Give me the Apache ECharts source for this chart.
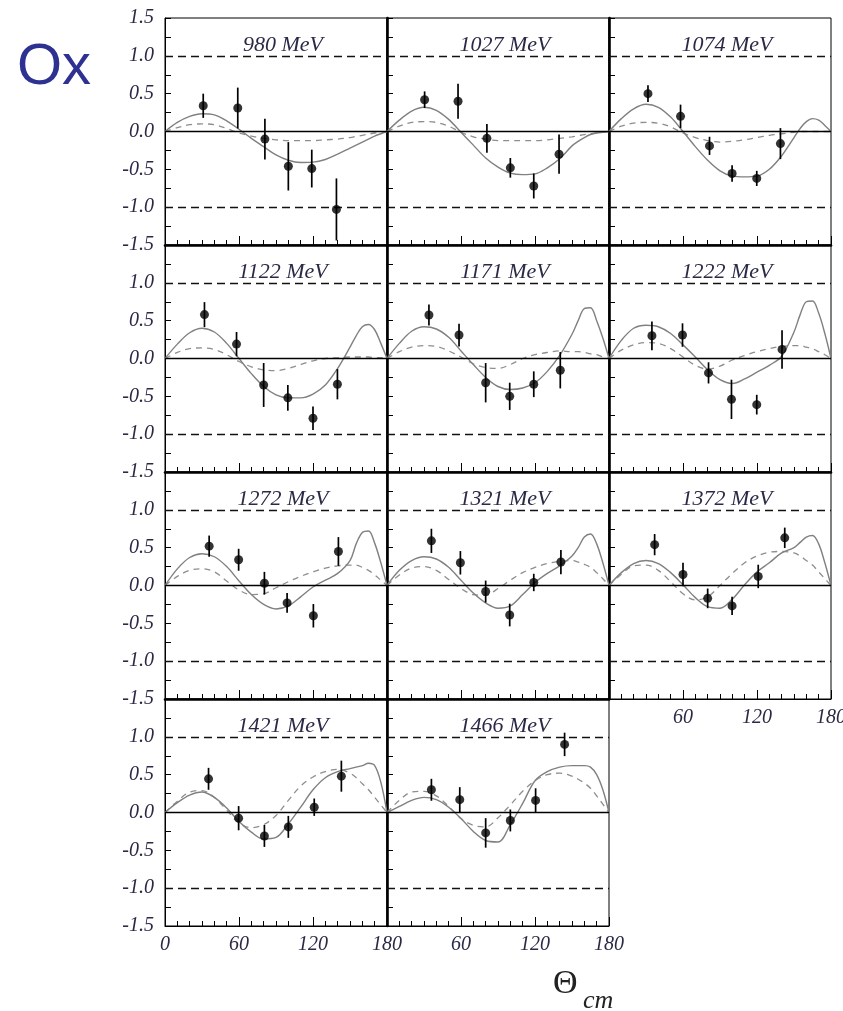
<!DOCTYPE html>
<html>
<head>
<meta charset="utf-8">
<title>Ox</title>
<script src="https://cdn.jsdelivr.net/npm/echarts@6/dist/echarts.min.js"></script>
<style>
  html, body { margin: 0; padding: 0; background: #fff; }
  #chart { width: 843px; height: 1011px; }
</style>
</head>
<body>
<div id="chart"></div>
<script>
// Beam energies (MeV), one panel each
const energies = [980, 1027, 1074, 1122, 1171, 1222, 1272, 1321, 1372, 1421, 1466];

// Measured points: angle (deg), Ox value, error
const pointAngles = [
  [31, 59, 81, 100, 119, 139],
  [30.5, 57.6, 81, 100, 119, 139.5],
  [31.6, 58, 81.5, 99.8, 119.8, 139],
  [32, 58, 80, 99.6, 120, 139.8],
  [34, 58.4, 80, 99.5, 119, 140.5],
  [34.8, 59.6, 80.7, 99.3, 119.8, 140.3],
  [35.8, 59.7, 80.6, 99, 120.3, 140.6],
  [36, 59.5, 80, 99.5, 119, 141],
  [37, 60, 80, 99.8, 121, 142.5],
  [35.3, 59.7, 80.6, 100, 121, 143],
  [36, 59, 80, 100, 120.5, 144]
];
const pointValues = [
  [0.34, 0.31, -0.10, -0.46, -0.49, -1.03],
  [0.42, 0.40, -0.09, -0.48, -0.72, -0.30],
  [0.50, 0.20, -0.19, -0.555, -0.62, -0.16],
  [0.58, 0.19, -0.35, -0.52, -0.79, -0.34],
  [0.575, 0.31, -0.32, -0.50, -0.34, -0.155],
  [0.30, 0.31, -0.19, -0.54, -0.61, 0.12],
  [0.52, 0.34, 0.03, -0.23, -0.40, 0.45],
  [0.59, 0.30, -0.08, -0.39, 0.04, 0.31],
  [0.54, 0.145, -0.17, -0.27, 0.12, 0.63],
  [0.445, -0.075, -0.31, -0.19, 0.07, 0.48],
  [0.30, 0.17, -0.27, -0.105, 0.16, 0.90]
];
const pointErrors = [
  [0.16, 0.27, 0.27, 0.32, 0.25, 0.41],
  [0.11, 0.23, 0.19, 0.13, 0.165, 0.26],
  [0.11, 0.155, 0.12, 0.11, 0.10, 0.205],
  [0.165, 0.16, 0.29, 0.17, 0.155, 0.20],
  [0.14, 0.15, 0.26, 0.18, 0.17, 0.24],
  [0.19, 0.155, 0.14, 0.26, 0.13, 0.255],
  [0.14, 0.145, 0.15, 0.13, 0.155, 0.19],
  [0.16, 0.155, 0.145, 0.15, 0.115, 0.16],
  [0.14, 0.155, 0.13, 0.12, 0.155, 0.135],
  [0.145, 0.16, 0.145, 0.145, 0.115, 0.205],
  [0.145, 0.165, 0.195, 0.145, 0.16, 0.155]
];

// Model curves sampled on a common angle grid
const curveAngles = [0, 10, 20, 30, 40, 50, 60, 70, 80, 90, 100, 110, 120, 130, 140, 150, 155, 160, 165, 170, 175, 180];
const solidCurves = [
  [0, 0.12, 0.20, 0.235, 0.22, 0.14, 0.03, -0.09, -0.20, -0.31, -0.38, -0.41, -0.405, -0.37, -0.30, -0.22, -0.18, -0.14, -0.10, -0.06, -0.03, 0],
  [0, 0.15, 0.27, 0.32, 0.28, 0.16, -0.01, -0.18, -0.35, -0.47, -0.55, -0.57, -0.56, -0.48, -0.36, -0.19, -0.13, -0.08, -0.04, -0.02, -0.01, 0],
  [0, 0.17, 0.30, 0.36, 0.32, 0.19, 0.0, -0.20, -0.38, -0.52, -0.59, -0.60, -0.59, -0.50, -0.32, -0.08, 0.04, 0.13, 0.17, 0.15, 0.08, 0],
  [0, 0.19, 0.34, 0.40, 0.35, 0.20, 0.0, -0.20, -0.37, -0.48, -0.52, -0.52, -0.47, -0.35, -0.13, 0.15, 0.30, 0.42, 0.45, 0.38, 0.20, 0],
  [0, 0.20, 0.36, 0.42, 0.39, 0.28, 0.10, -0.08, -0.25, -0.37, -0.41, -0.39, -0.32, -0.17, 0.04, 0.32, 0.50, 0.66, 0.67, 0.50, 0.27, 0],
  [0, 0.24, 0.40, 0.44, 0.42, 0.33, 0.18, 0.02, -0.15, -0.28, -0.33, -0.27, -0.18, -0.09, 0.03, 0.35, 0.58, 0.75, 0.76, 0.60, 0.33, 0],
  [0, 0.22, 0.37, 0.42, 0.38, 0.25, 0.06, -0.12, -0.25, -0.31, -0.27, -0.15, -0.02, 0.07, 0.16, 0.33, 0.55, 0.70, 0.72, 0.56, 0.30, 0],
  [0, 0.20, 0.33, 0.38, 0.35, 0.24, 0.07, -0.10, -0.23, -0.30, -0.27, -0.12, 0.04, 0.16, 0.26, 0.39, 0.50, 0.64, 0.68, 0.55, 0.30, 0],
  [0, 0.17, 0.29, 0.33, 0.29, 0.17, 0.01, -0.16, -0.28, -0.30, -0.18, 0.01, 0.18, 0.30, 0.43, 0.50, 0.57, 0.64, 0.66, 0.55, 0.30, 0],
  [0, 0.13, 0.23, 0.27, 0.20, 0.06, -0.12, -0.26, -0.35, -0.33, -0.15, 0.07, 0.30, 0.46, 0.54, 0.58, 0.60, 0.62, 0.65, 0.62, 0.40, 0],
  [0, 0.08, 0.16, 0.20, 0.17, 0.07, -0.08, -0.25, -0.37, -0.39, -0.16, 0.12, 0.42, 0.54, 0.60, 0.62, 0.62, 0.62, 0.60, 0.50, 0.30, 0]
];
const dashedCurves = [
  [0, 0.05, 0.09, 0.10, 0.09, 0.04, -0.02, -0.06, -0.09, -0.11, -0.12, -0.12, -0.12, -0.11, -0.10, -0.08, -0.065, -0.05, -0.035, -0.02, -0.01, 0],
  [0, 0.07, 0.12, 0.13, 0.12, 0.07, -0.01, -0.07, -0.10, -0.12, -0.12, -0.12, -0.12, -0.11, -0.09, -0.07, -0.055, -0.04, -0.03, -0.02, -0.01, 0],
  [0, 0.07, 0.11, 0.12, 0.11, 0.06, -0.02, -0.08, -0.12, -0.14, -0.13, -0.11, -0.08, -0.05, -0.03, -0.01, 0, 0, 0, 0, 0, 0],
  [0, 0.08, 0.13, 0.14, 0.12, 0.05, -0.04, -0.11, -0.15, -0.16, -0.13, -0.08, -0.03, 0.0, 0.01, 0.02, 0.02, 0.02, 0.02, 0.01, 0.01, 0],
  [0, 0.09, 0.15, 0.17, 0.16, 0.10, 0.02, -0.07, -0.12, -0.13, -0.08, 0.0, 0.05, 0.08, 0.10, 0.09, 0.09, 0.08, 0.06, 0.05, 0.02, 0],
  [0, 0.11, 0.18, 0.21, 0.20, 0.13, 0.02, -0.09, -0.14, -0.10, -0.02, 0.04, 0.09, 0.13, 0.16, 0.17, 0.17, 0.15, 0.13, 0.09, 0.05, 0],
  [0, 0.12, 0.20, 0.22, 0.18, 0.06, -0.06, -0.12, -0.11, -0.03, 0.05, 0.12, 0.18, 0.23, 0.26, 0.27, 0.27, 0.24, 0.20, 0.14, 0.07, 0],
  [0, 0.14, 0.23, 0.25, 0.20, 0.08, -0.04, -0.12, -0.13, -0.04, 0.07, 0.17, 0.24, 0.29, 0.32, 0.33, 0.31, 0.28, 0.24, 0.17, 0.09, 0],
  [0, 0.15, 0.26, 0.27, 0.20, 0.05, -0.11, -0.19, -0.15, 0.0, 0.16, 0.30, 0.39, 0.44, 0.45, 0.43, 0.39, 0.33, 0.27, 0.18, 0.09, 0],
  [0, 0.15, 0.27, 0.29, 0.20, 0.03, -0.14, -0.20, -0.16, -0.04, 0.16, 0.35, 0.47, 0.54, 0.57, 0.52, 0.46, 0.38, 0.30, 0.20, 0.10, 0],
  [0, 0.16, 0.27, 0.28, 0.22, 0.08, -0.08, -0.17, -0.19, -0.07, 0.10, 0.28, 0.42, 0.50, 0.52, 0.48, 0.44, 0.39, 0.32, 0.22, 0.11, 0]
];

// Axis ranges and tick labels
const angleRange = [0, 180];
const angleStep = 60;
const oxRange = [-1.5, 1.5];
const oxStep = 0.5;

// Panel geometry (3 columns x 4 rows)
const colLeft = [165, 387, 609];
const rowTop = [18, 245, 472, 699];
const panelW = 222;
const panelH = 227;
const nCols = 3;

const serif = "'Liberation Serif', 'Times New Roman', serif";
const labelColor = '#2a2a46';

const chart = echarts.init(document.getElementById('chart'), null, { renderer: 'canvas' });

const grids = [], xAxes = [], yAxes = [], series = [], titles = [];

energies.forEach((e, i) => {
  const row = Math.floor(i / nCols), col = i % nCols;
  const hasBelow = i + nCols < energies.length;
  const hasLeft = col > 0;

  grids.push({
    left: colLeft[col], top: rowTop[row], width: panelW, height: panelH,
    show: true, borderColor: '#000', borderWidth: 1, backgroundColor: 'transparent',
    outerBoundsMode: 'none', containLabel: false
  });

  xAxes.push({
    gridIndex: i, type: 'value', min: angleRange[0], max: angleRange[1], interval: angleStep,
    axisLine: { show: true, onZero: false, lineStyle: { color: '#000', width: hasBelow ? 2.6 : 1 } },
    axisTick: { show: true, inside: true, length: 9, lineStyle: { color: '#000', width: 1 } },
    minorTick: { show: true, splitNumber: 6, length: 5, lineStyle: { color: '#000', width: 1 } },
    splitLine: { show: false }, minorSplitLine: { show: false },
    axisLabel: {
      show: !hasBelow, showMinLabel: col === 0, showMaxLabel: true, hideOverlap: false,
      color: labelColor, fontFamily: serif, fontStyle: 'italic', fontSize: 20, margin: 9
    }
  });

  yAxes.push({
    gridIndex: i, type: 'value', min: oxRange[0], max: oxRange[1], interval: oxStep,
    axisLine: { show: true, onZero: false, lineStyle: { color: '#000', width: hasLeft ? 2.6 : 1 } },
    axisTick: { show: true, inside: true, length: 6, lineStyle: { color: '#000', width: 1 } },
    minorTick: { show: true, splitNumber: 2, length: 6, lineStyle: { color: '#000', width: 1 } },
    splitLine: { show: false }, minorSplitLine: { show: false },
    axisLabel: {
      show: col === 0, showMaxLabel: row === 0, showMinLabel: true, hideOverlap: false,
      color: labelColor, fontFamily: serif, fontStyle: 'italic', fontSize: 20, margin: 11,
      formatter: v => v.toFixed(1)
    }
  });

  titles.push({
    text: e + ' MeV',
    left: colLeft[col] + panelW / 2 + 2, top: rowTop[row] + 11, textAlign: 'center',
    textStyle: { color: labelColor, fontFamily: serif, fontStyle: 'italic', fontWeight: 'normal', fontSize: 22 }
  });

  series.push({
    type: 'line', xAxisIndex: i, yAxisIndex: i, silent: true,
    data: curveAngles.map((a, k) => [a, dashedCurves[i][k]]),
    smooth: 0.35, symbol: 'none',
    lineStyle: { color: '#8e8e8e', width: 1.3, type: [6, 5] }, z: 3
  });
  series.push({
    type: 'line', xAxisIndex: i, yAxisIndex: i, silent: true,
    data: curveAngles.map((a, k) => [a, solidCurves[i][k]]),
    smooth: 0.35, symbol: 'none',
    lineStyle: { color: '#808080', width: 1.4 }, z: 4
  });
  series.push({
    type: 'custom', xAxisIndex: i, yAxisIndex: i, silent: true,
    data: pointAngles[i].map((a, k) => [a, pointValues[i][k] - pointErrors[i][k], pointValues[i][k] + pointErrors[i][k]]),
    encode: { x: 0, y: [1, 2] },
    renderItem: (params, api) => {
      const p1 = api.coord([api.value(0), api.value(1)]);
      const p2 = api.coord([api.value(0), api.value(2)]);
      return { type: 'line', shape: { x1: p1[0], y1: p1[1], x2: p2[0], y2: p2[1] },
               style: { stroke: '#000', lineWidth: 1.7 } };
    },
    z: 5
  });
  series.push({
    type: 'scatter', xAxisIndex: i, yAxisIndex: i, silent: true,
    data: pointAngles[i].map((a, k) => [a, pointValues[i][k]]),
    symbol: 'circle', symbolSize: 9, itemStyle: { color: '#000' }, z: 6,
    markLine: {
      silent: true, symbol: ['none', 'none'], label: { show: false },
      lineStyle: { color: '#111', width: 1.3, type: [8, 5] },
      data: [
        { yAxis: 0, lineStyle: { type: 'solid', color: '#000', width: 1.3 } },
        { yAxis: 1 },
        { yAxis: -1 }
      ]
    }
  });
});

// Figure label and angle axis title
titles.push({
  text: 'Ox', left: 12, top: 34,
  textStyle: { color: '#2e3192', fontFamily: "'Liberation Sans', Arial, sans-serif", fontWeight: 'normal', fontSize: 58 }
});
titles.push({
  text: 'Θ', left: 548, top: 962,
  textStyle: { color: '#222', fontFamily: serif, fontWeight: 'normal', fontSize: 34 }
});
titles.push({
  text: 'cm', left: 578, top: 983,
  textStyle: { color: '#222', fontFamily: serif, fontStyle: 'italic', fontWeight: 'normal', fontSize: 26 }
});

chart.setOption({
  animation: false,
  backgroundColor: '#fff',
  title: titles,
  grid: grids,
  xAxis: xAxes,
  yAxis: yAxes,
  series: series
});
</script>
</body>
</html>
